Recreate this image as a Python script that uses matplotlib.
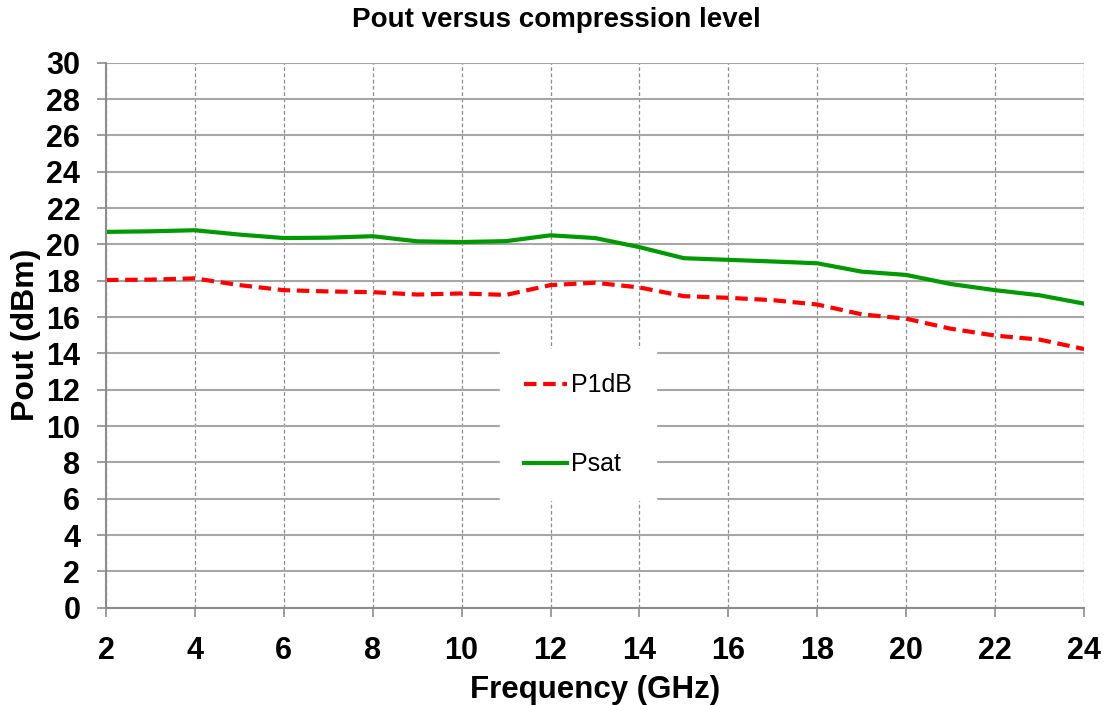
import numpy as np
import matplotlib.pyplot as plt

plt.rcParams['font.family'] = ['Liberation Sans', 'DejaVu Sans']

# data
freq = [2, 3, 4, 5, 6, 7, 8, 9, 10, 11, 12, 13, 14, 15, 16, 17, 18, 19, 20, 21, 22, 23, 24]
psat = [20.69, 20.72, 20.78, 20.54, 20.35, 20.37, 20.45, 20.17, 20.13, 20.18, 20.5, 20.35,
        19.85, 19.24, 19.15, 19.06, 18.96, 18.5, 18.32, 17.82, 17.48, 17.2, 16.74]
p1db = [18.04, 18.06, 18.13, 17.76, 17.48, 17.41, 17.37, 17.24, 17.3, 17.22, 17.76, 17.89,
        17.63, 17.15, 17.06, 16.93, 16.69, 16.15, 15.91, 15.36, 14.98, 14.76, 14.24]
xticks = list(range(2, 25, 2))
yticks = list(range(0, 31, 2))

fig = plt.figure(figsize=(11.12, 7.05), dpi=100)
ax = fig.add_axes([0.0953, 0.138, 0.8795, 0.773])

ax.plot(freq, p1db, color='#ff0000', lw=3, dashes=(3, 1.6), label='P1dB')
ax.plot(freq, psat, color='#009900', lw=3, label='Psat')

ax.set_xlim(2, 24)
ax.set_ylim(0, 30)
ax.set_xticks(xticks)
ax.set_yticks(yticks)

# gridlines: solid horizontal, dashed vertical
ax.yaxis.grid(True, color='#a6a6a6', lw=1.5, ls='-')
ax.xaxis.grid(True, color='#8c8c8c', lw=0.9, ls=(0, (3, 2)))
ax.set_axisbelow(True)

for s in ['top', 'right']:
    ax.spines[s].set_visible(False)
for s in ['left', 'bottom']:
    ax.spines[s].set_color('#8c8c8c')
    ax.spines[s].set_linewidth(1.5)

ax.tick_params(axis='both', direction='out', length=6.5, width=1.2, color='#8c8c8c',
               labelsize=22)
ax.tick_params(axis='x', pad=14)
ax.tick_params(axis='y', pad=12)
for lab in ax.get_xticklabels() + ax.get_yticklabels():
    lab.set_fontweight('bold')

ax.set_xlabel('Frequency (GHz)', fontsize=22.5, fontweight='bold', labelpad=6)
ax.set_ylabel('Pout (dBm)', fontsize=23, fontweight='bold', labelpad=4)
fig.suptitle('Pout versus compression level', fontsize=20, fontweight='bold', y=0.99)

leg = ax.legend(loc='lower left', bbox_to_anchor=(0.403, 0.197, 0.165, 0.29), fontsize=18,
                frameon=True, fancybox=False, framealpha=1, edgecolor='white',
                labelspacing=2.2, handlelength=1.72, handletextpad=0.17, borderpad=0.96,
                borderaxespad=0)

fig.savefig('out.png', dpi=100)
plt.close()
